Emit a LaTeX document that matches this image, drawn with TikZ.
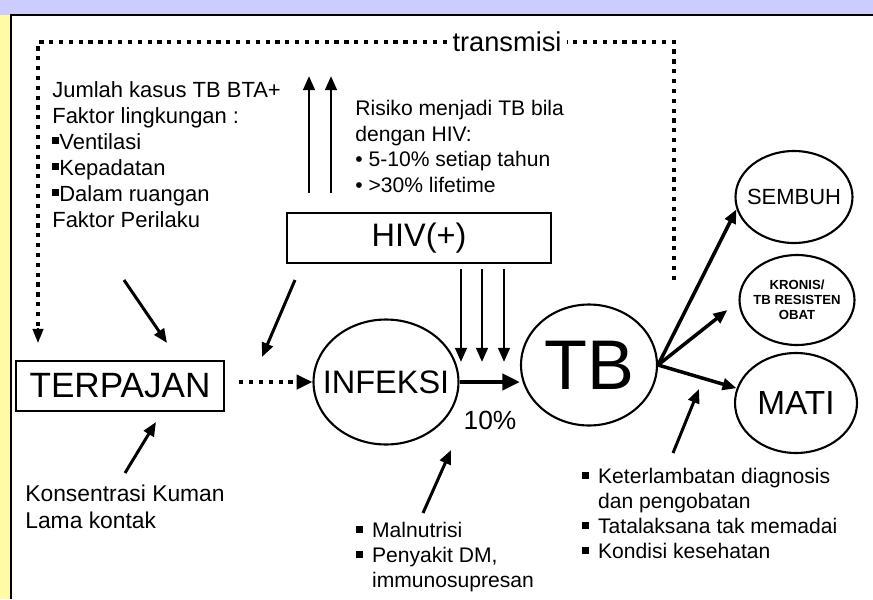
\documentclass[tikz,border=0pt]{standalone}
\usepackage{fontspec}
\setmainfont{Liberation Sans}
\usetikzlibrary{arrows.meta,shapes.geometric}
\newcommand{\sqbul}{\rule[0.22em]{0.32em}{0.32em}}
\newcommand{\fsz}[2]{\fontsize{#1}{#2}\selectfont}
\begin{document}
\begin{tikzpicture}[x=0.02cm, y=-0.02cm,
  box/.style={draw, line width=1.3pt, inner sep=0pt},
  oval/.style={ellipse, draw, line width=1.2pt, inner sep=0pt},
  note/.style={align=left, inner sep=0pt, anchor=north west},
  solidarrow/.style={line width=1.7pt, -{Triangle[length=8pt, width=6.5pt]}},
  dotline/.style={line width=2.4pt, dash pattern=on 2.4pt off 3.2pt}]
  \useasboundingbox (0,0) rectangle (873,599);

  % Frame
  \fill[blue!20] (0,0) rectangle (873,15);
  \fill[yellow!35] (0,15) rectangle (11,599);
  \draw[line width=1.6pt] (11,599) -- (11,15) -- (873,15);

  % Left factors
  \node[note, font=\fsz{12.5}{14.8}] (lingkungan) at (52,81) {Jumlah kasus TB BTA+\\
    Faktor lingkungan :\\
    \sqbul Ventilasi\\
    \sqbul Kepadatan\\
    \sqbul Dalam ruangan\\
    Faktor Perilaku};

  % HIV risk
  \node[note, font=\fsz{12}{14.5}] (risiko) at (355,100) {Risiko menjadi TB bila\\
    dengan HIV:\\
    \textbullet{} 5-10\% setiap tahun\\
    \textbullet{} >30\% lifetime};
  \node[box, minimum width=5.28cm, minimum height=1cm, font=\fsz{18.5}{20}] (hiv) at (419,238) {HIV(+)};

  % Main chain
  \node[box, minimum width=4.16cm, minimum height=1cm, font=\fsz{20}{22}] (terpajan) at (120,386) {TERPAJAN};
  \node[oval, minimum width=2.9cm, minimum height=2.5cm] (infeksi) at (386,382) {};
  \node[font=\fsz{18.5}{20}] (infeksiT) at (infeksi) {INFEKSI};
  \node[oval, minimum width=2.72cm, minimum height=2.42cm] (tb) at (589,365) {};
  \node[font=\fsz{40}{42}] (tbT) at (tb) {TB};
  \node[font=\fsz{15}{17}] (persen) at (490,420) {10\%};

  % Outcomes
  \node[oval, minimum width=2.34cm, minimum height=1.84cm] (sembuh) at (794,197) {};
  \node[font=\fsz{12.5}{14}] (sembuhT) at (sembuh) {SEMBUH};
  \node[oval, minimum width=2.3cm, minimum height=1.8cm] (kronis) at (797,300) {};
  \node[align=center, font=\fsz{7.5}{8.5}\bfseries] (kronisT) at (kronis) {KRONIS/\\TB RESISTEN\\OBAT};
  \node[oval, minimum width=2.44cm, minimum height=2cm] (mati) at (796,403) {};
  \node[font=\fsz{19}{21}] (matiT) at (mati) {MATI};

  % Bottom factors
  \node[note, font=\fsz{13}{15.4}] (kuman) at (25,485) {Konsentrasi Kuman\\Lama kontak};
  \node[note, font=\fsz{12}{14.2}] (gizi) at (356,522) {\makebox[0.75em][l]{\sqbul}Malnutrisi\\
    \makebox[0.75em][l]{\sqbul}Penyakit DM,\\
    \hspace*{0.75em}immunosupresan};
  \node[note, font=\fsz{12}{14.2}] (layanan) at (582,468) {\makebox[0.75em][l]{\sqbul}Keterlambatan diagnosis\\
    \hspace*{0.75em}dan pengobatan\\
    \makebox[0.75em][l]{\sqbul}Tatalaksana tak memadai\\
    \makebox[0.75em][l]{\sqbul}Kondisi kesehatan};

  % Transmission loop
  \node[fill=white, inner sep=3pt, font=\fsz{15.5}{17}] (transmisi) at (507,42) {transmisi};
  \coordinate (trR) at (674,280);
  \coordinate (trL) at (38,343);
  \draw[dotline] (trR) |- (transmisi.east);
  \draw[dotline] (transmisi.west) -| ([yshift=0.25cm]trL);
  \draw[-{Triangle[length=8pt, width=6pt]}, line width=1.4pt] ([yshift=0.3cm]trL) -- (trL);

  % HIV arrows
  \foreach \x [count=\i] in {309,331} {
    \coordinate (up\i a) at (\x,193);
    \coordinate (up\i b) at (\x,76);
    \draw[solidarrow] (up\i a) -- (up\i b);
  }
  \foreach \x [count=\i] in {461,482,504} {
    \coordinate (dn\i a) at (\x,269);
    \coordinate (dn\i b) at (\x,362);
    \draw[solidarrow] (dn\i a) -- (dn\i b);
  }

  % Factor arrows
  \coordinate (f1a) at (124,280); \coordinate (f1b) at (167,343);
  \coordinate (f2a) at (295,280); \coordinate (f2b) at (262,357);
  \coordinate (f3a) at (125,473); \coordinate (f3b) at (156,422);
  \coordinate (f4a) at (423,513); \coordinate (f4b) at (451,450);
  \coordinate (f5a) at (673,453); \coordinate (f5b) at (699,389);
  \foreach \i in {1,...,5} {
    \draw[solidarrow] (f\i a) -- (f\i b);
  }

  % Chain arrows
  \draw[dotline, -{Triangle[length=9pt, width=8pt]}, shorten <=8pt] (terpajan.east |- infeksi) -- (infeksi.west);
  \draw[line width=2.8pt, -{Triangle[length=10pt, width=9pt]}] (infeksi.east) -- (infeksi.east -| tb.west);
  \draw[solidarrow, line width=2pt] (tb.east) -- (sembuh.192);
  \draw[solidarrow, line width=2pt] (tb.east) -- ([xshift=-0.22cm, yshift=-0.2cm]kronis.west);
  \draw[solidarrow, line width=2pt] (tb.east) -- (mati.166);
\end{tikzpicture}
\end{document}
